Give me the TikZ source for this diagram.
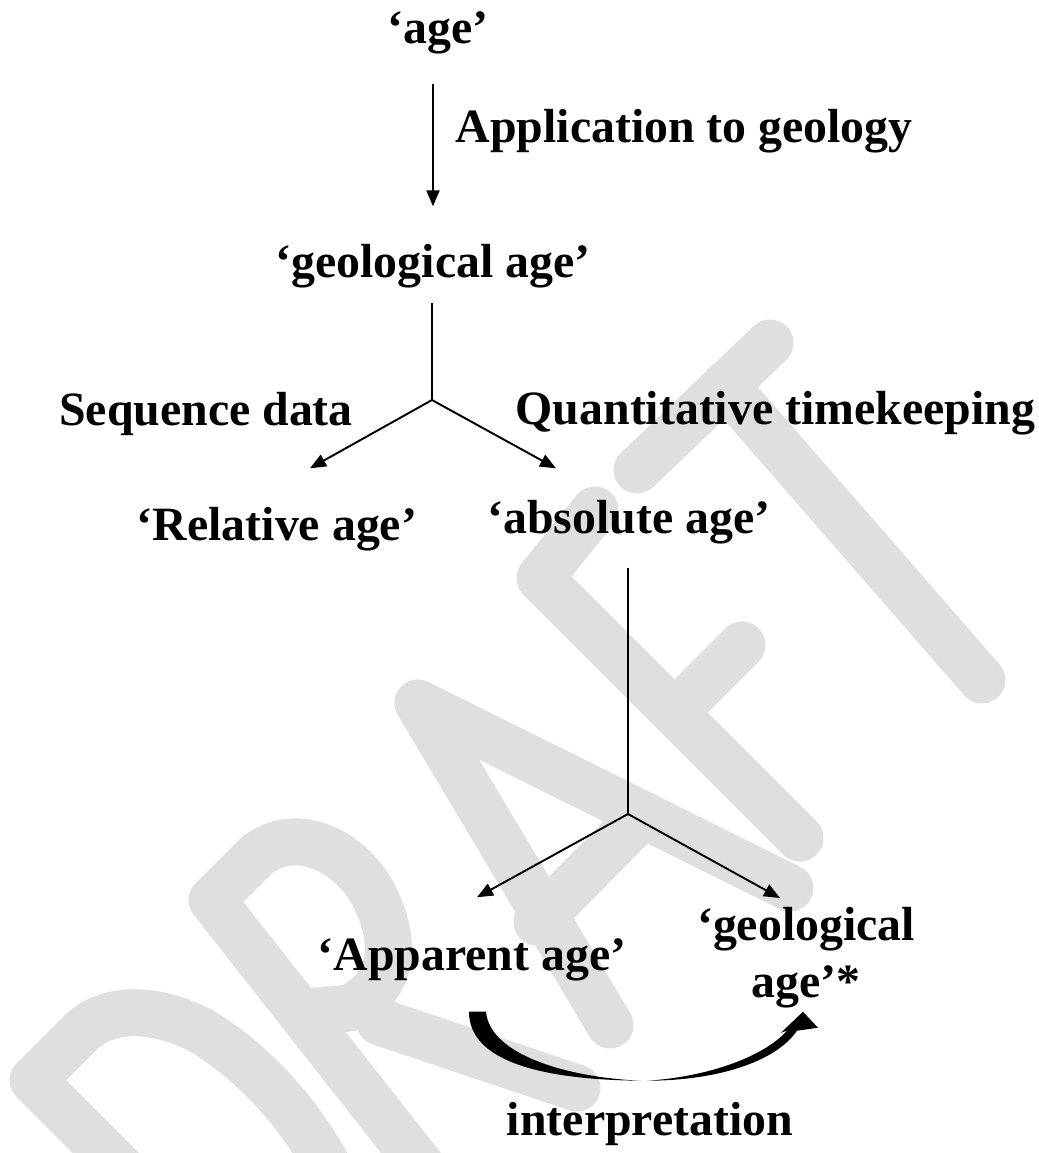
\documentclass[tikz,border=0pt]{standalone}
\usepackage{fontspec}
\setmainfont{Liberation Serif}
\usetikzlibrary{arrows.meta,calc}
\definecolor{wmgray}{RGB}{223,223,223}

\begin{document}
\begin{tikzpicture}[x=0.01cm,y=-0.01cm,>={Triangle[length=0.16cm,width=0.13cm]},
  every node/.style={font=\bfseries\fontsize{13.6}{16.2}\selectfont,inner sep=0pt},
  lbl/.style={text height=0.33cm,text depth=0.10cm},
  link/.style={line width=.55pt},
  wm/.style={line width=0.47cm,wmgray,line cap=round,line join=round}]
\useasboundingbox (0,0) rectangle (1039,1153);
\begin{scope}
\clip (0,0) rectangle (1039,1153);
% watermark
\draw[wm] (140,1187) -- (33,1080) -- (80,1033) .. controls (105,1008) and (150,1005) .. (200,1030) .. controls (250,1060) and (300,1110) .. (335,1180);
\draw[wm] (440,1190) -- (212,900) -- (255,857) .. controls (290,826) and (345,845) .. (372,892) .. controls (398,940) and (395,985) .. (350,1008) -- (305,1012);
\draw[wm] (380,1022) -- (577,1088);
\draw[wm] (610,1025) -- (418,703) -- (790,888);
\draw[wm] (537,922) -- (640,818);
\draw[wm] (595,510) -- (540,578) -- (800,838);
\draw[wm] (675,712) -- (742,645);
\draw[wm] (637,470) -- (770,343);
\draw[wm] (725,385) -- (982,680);
\end{scope}

\node[lbl,anchor=base] (age) at (438,43) {‘age’};
\node[anchor=base west] (appl) at (455,142) {Application to geology};
\node[lbl,anchor=base] (geoage) at (433,277) {‘geological age’};
\node[anchor=base] (seq) at (206,425) {Sequence data};
\node[anchor=base west] (quant) at (515,424) {Quantitative timekeeping};
\node[lbl,anchor=base] (relage) at (277,540) {‘Relative age’};
\node[lbl,anchor=base] (absage) at (629,533) {‘absolute age’};
\node[lbl,anchor=base] (appage) at (472,970) {‘Apparent age’};
\node[align=center,anchor=north] (geostar) at (806,907) {‘geological\\age’*};
\node[anchor=base] (interp) at (650,1135) {interpretation};

\coordinate (j1) at (432,400);
\coordinate (j2) at (628,814);
\draw[link,->] ($(age.south -| geoage.north)+(0,30)$) -- ($(geoage.north)+(0,-37)$);
\draw[link] ($(geoage.south -| j1)+(0,15)$) -- (j1);
\draw[link,->] (j1) -- ($(relage.north)+(33,-38)$);
\draw[link,->] (j1) -- ($(absage.north)+(-73,-31)$);
\draw[link] ($(absage.south -| j2)+(0,24)$) -- (j2);
\draw[link,->] (j2) -- ($(appage.north)+(5,-39)$);
\draw[link,->] (j2) -- ($(geostar.north)+(-26,-9)$);

\begin{scope}[shift={(appage.south)}]
\fill (-3,31) -- (14,31) .. controls (18,75) and (98,97) .. (169,100) .. controls (68,99) and (-3,80) .. (-3,31) -- cycle;
\fill (175,100) .. controls (243,100) and (303,82) .. (325,50) -- (346,47) -- (331,31) -- (309,52) -- (315,50) .. controls (293,75) and (238,96) .. (175,100) -- cycle;
\end{scope}
\end{tikzpicture}
\end{document}
